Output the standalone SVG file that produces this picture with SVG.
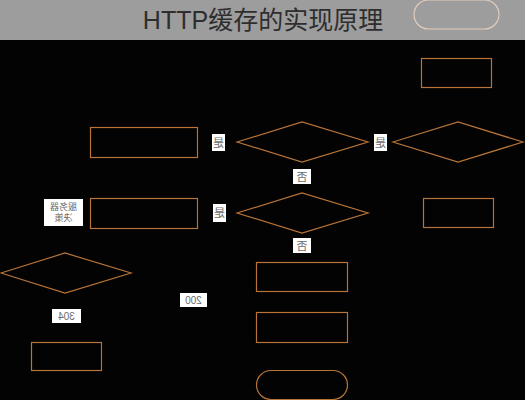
<svg xmlns="http://www.w3.org/2000/svg" width="525" height="400" viewBox="0 0 525 400">
<style>
.n{fill:none;stroke:#b87438;stroke-width:1.2}
.lb{fill:#ffffff}
.lt{font-family:"Liberation Sans","Noto Sans CJK SC",sans-serif;font-size:11px;fill:#6a6a6a;text-anchor:middle}
.title{font-family:"Liberation Sans","Noto Sans CJK SC",sans-serif;font-size:25px;fill:#2e2e2e;text-anchor:middle}
</style>
<rect x="0" y="0" width="525" height="400" fill="#030303"/>
<rect x="0" y="0" width="525" height="40" fill="#9d9d9d"/>
<text class="title" x="263" y="29">HTTP缓存的实现原理</text>
<g id="start"><rect x="414" y="0" width="85" height="29" rx="14.5" fill="none" stroke="#e2cdbd" stroke-width="1.2"/></g>
<g id="box-top-right"><rect class="n" x="421.5" y="58.5" width="70" height="29"/></g>
<g id="box-left-1"><rect class="n" x="90.5" y="127.5" width="107" height="30"/></g>
<g id="box-left-2"><rect class="n" x="90.5" y="198.5" width="107" height="30"/></g>
<g id="box-right-2"><rect class="n" x="423.5" y="198.5" width="70" height="29"/></g>
<g id="dec-1"><polygon class="n" points="237,142 302,122 368,142 302,162"/></g>
<g id="dec-2"><polygon class="n" points="393,142 458,122 523,142 458,162"/></g>
<g id="dec-3"><polygon class="n" points="237,213 302,193 368,213 302,233"/></g>
<g id="dec-4"><polygon class="n" points="1,273 65,253 131,273 65,293"/></g>
<g id="box-bottom-left"><rect class="n" x="31.5" y="342.5" width="70" height="28"/></g>
<g id="box-center-1"><rect class="n" x="256.5" y="262.5" width="91" height="29"/></g>
<g id="box-center-2"><rect class="n" x="256.5" y="312.5" width="91" height="30"/></g>
<g id="end"><rect class="n" x="256.5" y="370.5" width="91" height="29" rx="14.5"/></g>
<g id="connectors"></g>
<g id="label-yes-1"><rect class="lb" x="212" y="134" width="13" height="17"/><text class="lt" transform="translate(218.5,146.5) scale(-1,1)">是</text></g>
<g id="label-yes-2"><rect class="lb" x="374" y="134" width="13" height="17"/><text class="lt" transform="translate(380.5,146.5) scale(-1,1)">是</text></g>
<g id="label-yes-3"><rect class="lb" x="213" y="204" width="13" height="18"/><text class="lt" transform="translate(219.5,217) scale(-1,1)">是</text></g>
<g id="label-no-1"><rect class="lb" x="293" y="169" width="18" height="15"/><text class="lt" transform="translate(302,180.5) scale(-1,1)">否</text></g>
<g id="label-no-2"><rect class="lb" x="293" y="238" width="18" height="15"/><text class="lt" transform="translate(302,249.5) scale(-1,1)">否</text></g>
<g id="label-server"><rect class="lb" x="44" y="199" width="39" height="27"/><text class="lt" style="font-size:9px" transform="translate(63.5,210) scale(-1,1)">服务器<tspan x="0" dy="11">决策</tspan></text></g>
<g id="label-200"><rect class="lb" x="180" y="293" width="27" height="14"/><text class="lt" style="font-size:10px" transform="translate(193.5,303.5) scale(-1,1)">200</text></g>
<g id="label-304"><rect class="lb" x="52" y="309" width="29" height="14"/><text class="lt" style="font-size:10px" transform="translate(66.5,319.5) scale(-1,1)">304</text></g>
</svg>
